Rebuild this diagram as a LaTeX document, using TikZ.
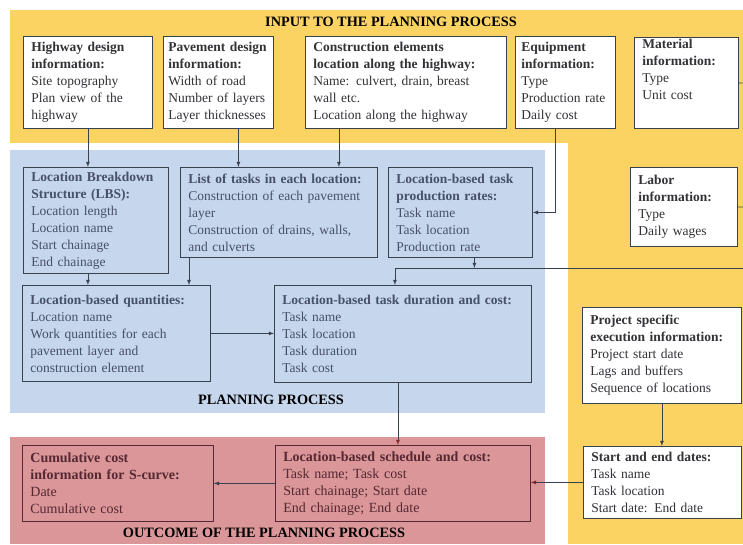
\documentclass[tikz,border=0pt]{standalone}
\usepackage{fontspec}
\setmainfont{Liberation Serif}
\usepackage{tikz}
\definecolor{inyellow}{RGB}{250,211,98}
\definecolor{procblue}{RGB}{198,214,236}
\definecolor{outred}{RGB}{218,150,152}
\definecolor{boxline}{RGB}{55,65,80}
\definecolor{inktext}{RGB}{50,50,55}
\definecolor{slatetext}{RGB}{70,80,105}
\definecolor{winetext}{RGB}{85,40,50}
\definecolor{redline}{RGB}{130,40,40}
\begin{document}
\begin{tikzpicture}[x=1pt,y=1pt]
\tikzstyle{every node}+=[font=\fontsize{13.5}{17}\selectfont]
\tikzstyle{info}=[draw=boxline, line width=0.8pt, anchor=north west, align=left, inner xsep=8pt, inner ysep=2pt]
\tikzstyle{inbox}=[info, fill=white, text=inktext]
\tikzstyle{procbox}=[info, text=slatetext]
\tikzstyle{outbox}=[info, draw=winetext, text=winetext, font=\fontsize{14}{17}\selectfont]
\tikzstyle{link}=[draw=boxline, line width=0.8pt, -latex]
\tikzstyle{redlink}=[draw=boxline, line width=0.8pt, -{latex[redline]}]
\tikzstyle{area}=[font=\fontsize{14.3}{17}\selectfont\bfseries, text=black]
\useasboundingbox (0,0) rectangle (743,-544);
\fill [white] (0,0) rectangle (743,-544);
\fill [inyellow] (10,-10) rectangle (743,-143);
\fill [inyellow] (568,-143) rectangle (743,-544);
\fill [procblue] (10,-150) rectangle (545,-413);
\fill [outred] (10,-437) rectangle (545,-544);
\node [area] (intitle) at (391,-22) {INPUT TO THE PLANNING PROCESS};
\node [area] (proctitle) at (271,-400) {PLANNING PROCESS};
\node [area] (outtitle) at (264,-533) {OUTCOME OF THE PLANNING PROCESS};
\node [inbox, text width=113pt, minimum height=92pt] (hwy) at (23,-36) {\textbf{Highway design}\\\textbf{information:}\\Site topography\\Plan view of the\\highway};
\node [inbox, inner xsep=5pt, text width=100pt, minimum height=92pt] (pav) at (163,-36) {\textbf{Pavement design}\\\textbf{information:}\\Width of road\\Number of layers\\Layer thicknesses};
\node [inbox, text width=185pt, minimum height=92pt] (cons) at (305,-36) {\textbf{Construction elements}\\\textbf{location along the highway:}\\Name: culvert, drain, breast\\wall etc.\\Location along the highway};
\node [inbox, inner xsep=6pt, text width=88pt, minimum height=92pt] (equip) at (515,-36) {\textbf{Equipment}\\\textbf{information:}\\Type\\Production rate\\Daily cost};
\node [inbox, text width=88pt, text depth=78pt] (mat) at (634,-37) {\textbf{Material}\\\textbf{information:}\\Type\\Unit cost};
\node [inbox, text width=91pt, minimum height=79pt] (labor) at (630,-167) {\textbf{Labor}\\\textbf{information:}\\Type\\Daily wages};
\node [procbox, text width=129pt, minimum height=106pt] (lbs) at (23,-167) {\textbf{Location Breakdown}\\\textbf{Structure (LBS):}\\Location length\\Location name\\Start chainage\\End chainage};
\node [procbox, text width=181pt, minimum height=90pt] (tasks) at (180,-167) {\textbf{List of tasks in each location:}\\Construction of each pavement\\layer\\Construction of drains, walls,\\and culverts};
\node [procbox, text width=128pt, minimum height=90pt] (rates) at (388,-167) {\textbf{Location-based task}\\\textbf{production rates:}\\Task name\\Task location\\Production rate};
\node [procbox, text width=172pt, minimum height=96pt] (quant) at (22,-285) {\textbf{Location-based quantities:}\\Location name\\Work quantities for each\\pavement layer and\\construction element};
\node [procbox, text width=241pt, minimum height=97pt] (dur) at (274,-285) {\textbf{Location-based task duration and cost:}\\Task name\\Task location\\Task duration\\Task cost};
\node [inbox, text width=143pt, minimum height=96pt] (proj) at (582,-307) {\textbf{Project specific}\\\textbf{execution information:}\\Project start date\\Lags and buffers\\Sequence of locations};
\node [outbox, text width=239pt, minimum height=76pt] (sched) at (275,-445) {\textbf{Location-based schedule and cost:}\\Task name; Task cost\\Start chainage; Start date\\End chainage; End date};
\node [outbox, text width=175pt, minimum height=76pt] (cum) at (22,-445) {\textbf{Cumulative cost}\\\textbf{information for S-curve:}\\Date\\Cumulative cost};
\node [inbox, text width=142pt, minimum height=72pt] (se) at (583,-446) {\textbf{Start and end dates:}\\Task name\\Task location\\Start date: End date};
\coordinate (mat-out) at (743,-83);
\coordinate (lab-out) at (743,-207);
\coordinate (lab-in) at (743,-268);
\draw [boxline, line width=0.8pt] (mat.east) -- (mat-out);
\draw [boxline, line width=0.8pt] (labor.east) -- (lab-out);
\draw [link] (hwy.south) -- (hwy.south |- lbs.north);
\draw [link] ([xshift=20pt]pav.south) -- ([xshift=20pt]pav.south |- tasks.north);
\draw [link] ([xshift=-67pt]cons.south) -- ([xshift=-67pt]cons.south |- tasks.north);
\draw [link] ([xshift=-10pt]equip.south) |- (rates.east);
\draw [link] ([xshift=-8pt]lbs.south) -- ([xshift=-8pt]lbs.south |- quant.north);
\draw [link] ([xshift=9pt]tasks.south west) -- ([xshift=9pt]tasks.south west |- quant.north);
\draw [link] ([xshift=14pt]rates.south) -- ([xshift=14pt]rates.south |- lab-in);
\draw [link] (lab-in) -| ([xshift=-8pt]dur.north);
\draw [link] (quant.east) -- (quant.east -| dur.west);
\draw [redlink] ([xshift=-5pt]dur.south) -- ([xshift=-5pt]dur.south |- sched.north);
\draw [link] (proj.south) -- (proj.south |- se.north);
\draw [redlink] (se.west) -- (se.west -| sched.east);
\draw [link] (sched.west) -- (sched.west -| cum.east);
\end{tikzpicture}
\end{document}
